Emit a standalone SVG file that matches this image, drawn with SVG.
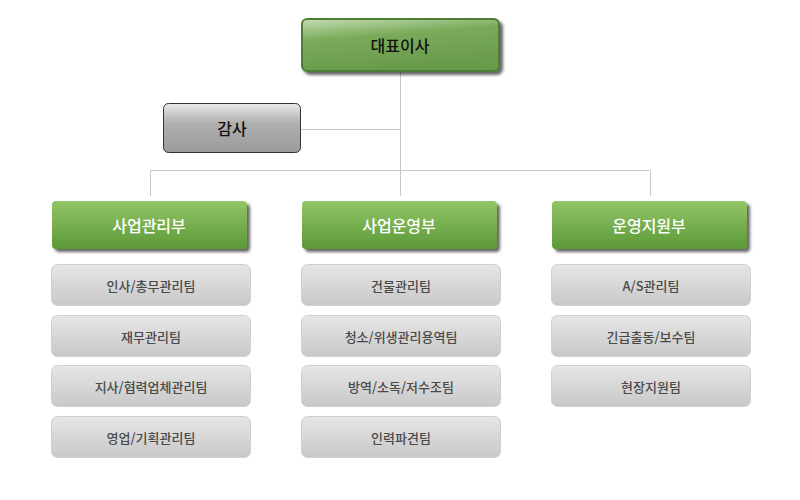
<svg xmlns="http://www.w3.org/2000/svg" width="800" height="500" viewBox="0 0 800 500">
<defs>
<linearGradient id="gTop" x1="0" y1="0" x2="0.3" y2="1">
<stop offset="0" stop-color="#c4ddb0"/>
<stop offset="0.4" stop-color="#7aaa5a"/>
<stop offset="1" stop-color="#6a9a4c"/>
</linearGradient>
<linearGradient id="gGray" x1="0" y1="0" x2="0" y2="1">
<stop offset="0" stop-color="#e8e8e8"/>
<stop offset="0.4" stop-color="#b0b0b0"/>
<stop offset="1" stop-color="#9a9a9a"/>
</linearGradient>
<linearGradient id="gDept" x1="0" y1="0" x2="0" y2="1">
<stop offset="0" stop-color="#92c666"/>
<stop offset="1" stop-color="#5c9838"/>
</linearGradient>
<linearGradient id="gSub" x1="0" y1="0" x2="0" y2="1">
<stop offset="0" stop-color="#e6e6e6"/>
<stop offset="1" stop-color="#c8c8c8"/>
</linearGradient>
<filter id="sh" x="-10%" y="-20%" width="125%" height="160%">
<feDropShadow dx="3" dy="3" stdDeviation="1.5" flood-color="#000" flood-opacity="0.6"/>
</filter>
</defs>
<style>
text{font-family:"Noto Sans CJK KR","Noto Sans",sans-serif;text-anchor:middle;dominant-baseline:central}
.main{font-size:16px;fill:#111;font-weight:500}
.dept{font-size:16px;fill:#fff;font-weight:500}
.sub{font-size:13px;fill:#4a4a4a;font-weight:500}
.line{stroke:#c8c8c8;stroke-width:1;fill:none}
.subbox{fill:url(#gSub);stroke:#d0d0d0;stroke-width:1}
</style>
<g id="connectors">
<path class="line" d="M400.5 72V170M300 129.5H400.5M150.5 196V170.5H650.5V196M400.5 170V196"/>
</g>
<g id="ceo">
<rect x="302" y="19" width="197" height="52" rx="5" fill="url(#gTop)" stroke="#4e7e38" stroke-width="2" filter="url(#sh)"/>
<text class="main" x="400" y="45">대표이사</text>
</g>
<g id="audit">
<rect x="163.5" y="103.5" width="137" height="49" rx="5" fill="url(#gGray)" stroke="#333" stroke-width="1"/>
<text class="main" x="232" y="128">감사</text>
</g>
<g id="dept1">
<rect x="52" y="201" width="195" height="48" rx="4" fill="url(#gDept)" filter="url(#sh)"/>
<text class="dept" x="149" y="225">사업관리부</text>
</g>
<g id="dept2">
<rect x="302" y="201" width="195" height="48" rx="4" fill="url(#gDept)" filter="url(#sh)"/>
<text class="dept" x="399" y="225">사업운영부</text>
</g>
<g id="dept3">
<rect x="552" y="201" width="195" height="48" rx="4" fill="url(#gDept)" filter="url(#sh)"/>
<text class="dept" x="649" y="225">운영지원부</text>
</g>
<g id="t1"><rect class="subbox" x="51.5" y="264.5" width="199" height="41" rx="6"/><text class="sub" x="151" y="285">인사/총무관리팀</text></g>
<g id="t2"><rect class="subbox" x="51.5" y="315.5" width="199" height="41" rx="6"/><text class="sub" x="151" y="336">재무관리팀</text></g>
<g id="t3"><rect class="subbox" x="51.5" y="365.5" width="199" height="41" rx="6"/><text class="sub" x="151" y="386">지사/협력업체관리팀</text></g>
<g id="t4"><rect class="subbox" x="51.5" y="416.5" width="199" height="41" rx="6"/><text class="sub" x="151" y="437">영업/기획관리팀</text></g>
<g id="t5"><rect class="subbox" x="301.5" y="264.5" width="199" height="41" rx="6"/><text class="sub" x="401" y="285">건물관리팀</text></g>
<g id="t6"><rect class="subbox" x="301.5" y="315.5" width="199" height="41" rx="6"/><text class="sub" x="401" y="336">청소/위생관리용역팀</text></g>
<g id="t7"><rect class="subbox" x="301.5" y="365.5" width="199" height="41" rx="6"/><text class="sub" x="401" y="386">방역/소독/저수조팀</text></g>
<g id="t8"><rect class="subbox" x="301.5" y="416.5" width="199" height="41" rx="6"/><text class="sub" x="401" y="437">인력파견팀</text></g>
<g id="t9"><rect class="subbox" x="551.5" y="264.5" width="199" height="41" rx="6"/><text class="sub" x="651" y="285">A/S관리팀</text></g>
<g id="t10"><rect class="subbox" x="551.5" y="315.5" width="199" height="41" rx="6"/><text class="sub" x="651" y="336">긴급출동/보수팀</text></g>
<g id="t11"><rect class="subbox" x="551.5" y="365.5" width="199" height="41" rx="6"/><text class="sub" x="651" y="386">현장지원팀</text></g>
</svg>
